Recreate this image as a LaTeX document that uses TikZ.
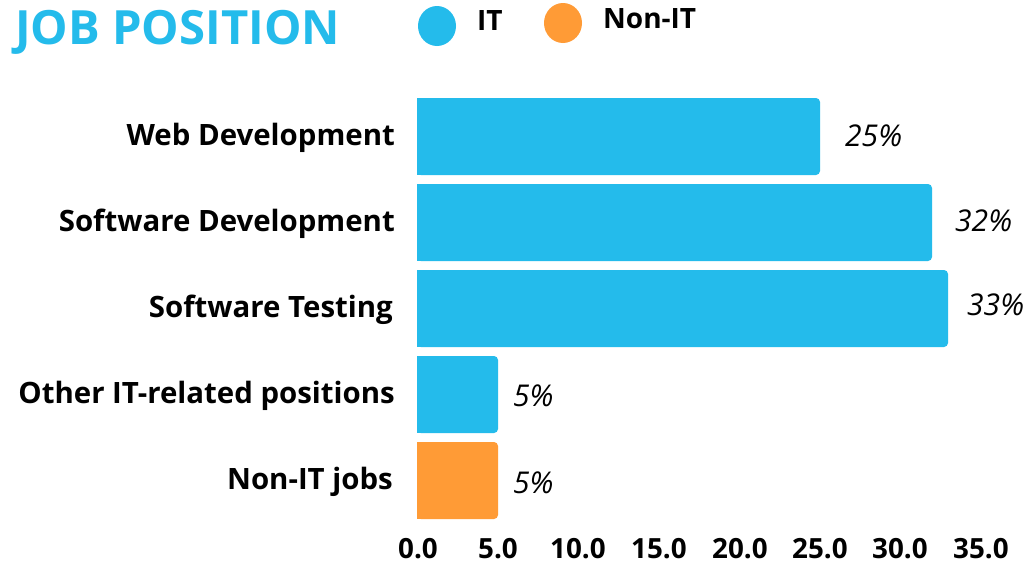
\documentclass[tikz,border=0pt]{standalone}
\usepackage{fontspec}
\setmainfont{Open Sans}
\definecolor{itblue}{RGB}{36,187,235}
\definecolor{nonorange}{RGB}{255,155,54}
\tikzset{
  catlabel/.style={anchor=base east,font=\fontsize{29.4}{32}\selectfont\bfseries,inner sep=0pt},
  pct/.style={anchor=base west,font=\fontsize{30}{32}\selectfont\itshape,inner sep=0pt},
  tick/.style={anchor=base,font=\fontsize{27.8}{30}\selectfont\bfseries,inner sep=0pt},
  legtext/.style={anchor=base west,font=\fontsize{28}{30}\selectfont\bfseries,inner sep=0pt},
}
\newcommand{\mybar}[5]{% y-top, y-bottom, x-right, color, name
  \fill[#4,rounded corners=4pt] (417,#1) rectangle (#3,#2);
  \fill[#4] (417,#1) rectangle (427,#2);
  \coordinate (#5) at (#3,{(#1+#2)/2});
}
\begin{document}
\begin{tikzpicture}[x=1pt,y=-1pt]
\useasboundingbox (0,0) rectangle (1025,565);
\fill[white] (0,0) rectangle (1025,565);
% title
\node[anchor=base west,inner sep=0pt,text=itblue,font=\fontsize{47.2}{52}\selectfont\bfseries] (title) at (15,44) {JOB POSITION};
% legend
\fill[itblue] (437,26) ellipse (19pt and 20pt);
\node[legtext] (legit) at (477,30) {IT};
\fill[nonorange] (563,23) ellipse (19pt and 20pt);
\node[legtext] (legnon) at (603,28) {Non-IT};
% bars
\mybar{98}{175}{820}{itblue}{b1}
\mybar{184}{261}{932}{itblue}{b2}
\mybar{270}{347}{948}{itblue}{b3}
\mybar{356}{433}{498}{itblue}{b4}
\mybar{442}{519}{498}{nonorange}{b5}
% category labels
\node[catlabel] (l1) at (395,145) {Web Development};
\node[catlabel] (l2) at (395,231) {Software Development};
\node[catlabel] (l3) at (393,317) {Software Testing};
\node[catlabel] (l4) at (395,403) {Other IT-related positions};
\node[catlabel] (l5) at (393,489) {Non-IT jobs};
% value labels
\node[pct] (p1) at (845,146) {25\%};
\node[pct] (p2) at (955,231) {32\%};
\node[pct] (p3) at (967,315) {33\%};
\node[pct] (p4) at (513,406) {5\%};
\node[pct] (p5) at (513,493) {5\%};
% axis ticks
\foreach \v/\x in {0.0/418,5.0/498,10.0/578,15.0/659,20.0/740,25.0/820,30.0/900,35.0/981}
  \node[tick] (t\x) at (\x,558) {\v};
\end{tikzpicture}
\end{document}
